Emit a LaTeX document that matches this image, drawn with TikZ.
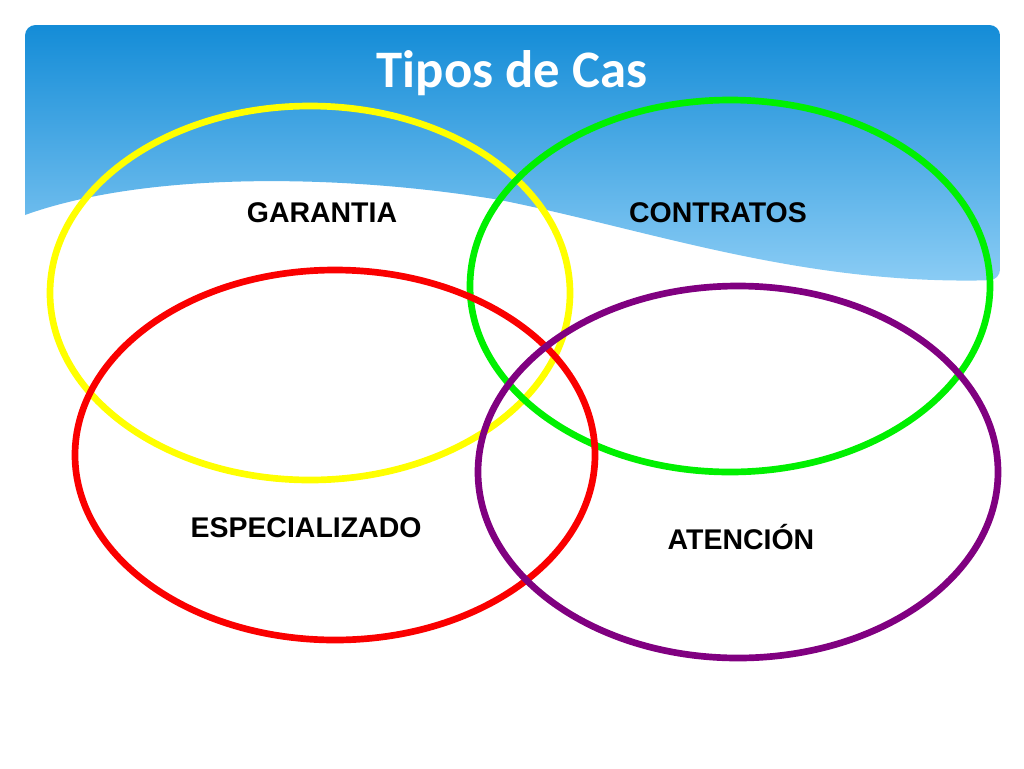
\documentclass[tikz,border=0pt]{standalone}
\usepackage{fontspec}
\setmainfont{Liberation Sans}
\newfontfamily\titlefont{Carlito}
\usetikzlibrary{positioning}
\definecolor{skytop}{RGB}{20,140,215}
\definecolor{skybot}{RGB}{140,205,245}
\definecolor{ringyellow}{RGB}{255,255,0}
\definecolor{ringgreen}{RGB}{0,240,0}
\definecolor{ringred}{RGB}{250,0,0}
\definecolor{ringpurple}{RGB}{128,0,128}
\begin{document}
\begin{tikzpicture}[x=0.02cm,y=-0.02cm,
    ring/.style={line width=3.8pt},
    tag/.style={font=\bfseries\fontsize{16.2}{18}\selectfont}
  ]
  \useasboundingbox (0,0) rectangle (1024,768);
  \fill[white] (0,0) rectangle (1024,768);
  % cabecera
  \shade[top color=skytop,bottom color=skybot,rounded corners=6pt]
    (25,215) -- (25,25) -- (1000,25) -- (1000,280) [sharp corners]
    .. controls (800,285) and (650,230) .. (500,200)
    .. controls (350,175) and (150,170) .. (25,215);
  \node[font=\titlefont\bfseries\fontsize{30}{34}\selectfont,text=white] (title) at (512,73) {Tipos de Cas};
  % anillos
  \coordinate (garantia) at (310,293);
  \coordinate (contratos) at (730,286);
  \coordinate (especial) at (335,455);
  \coordinate (atencion) at (738,472);
  \draw[ring,ringyellow] (garantia) ellipse [x radius=260,y radius=187];
  \draw[ring,ringgreen] (contratos) ellipse [x radius=260,y radius=186];
  \draw[ring,ringred] (especial) ellipse [x radius=260,y radius=185];
  \draw[ring,ringpurple] (atencion) ellipse [x radius=260,y radius=186];
  % etiquetas
  \node[tag] (tgar) at (322,213) {GARANTIA};
  \node[tag] (tcon) at (718,213) {CONTRATOS};
  \node[tag] (tesp) at (306,528) {ESPECIALIZADO};
  \node[tag] (tate) at (741,537) {ATENCIÓN};
\end{tikzpicture}
\end{document}
